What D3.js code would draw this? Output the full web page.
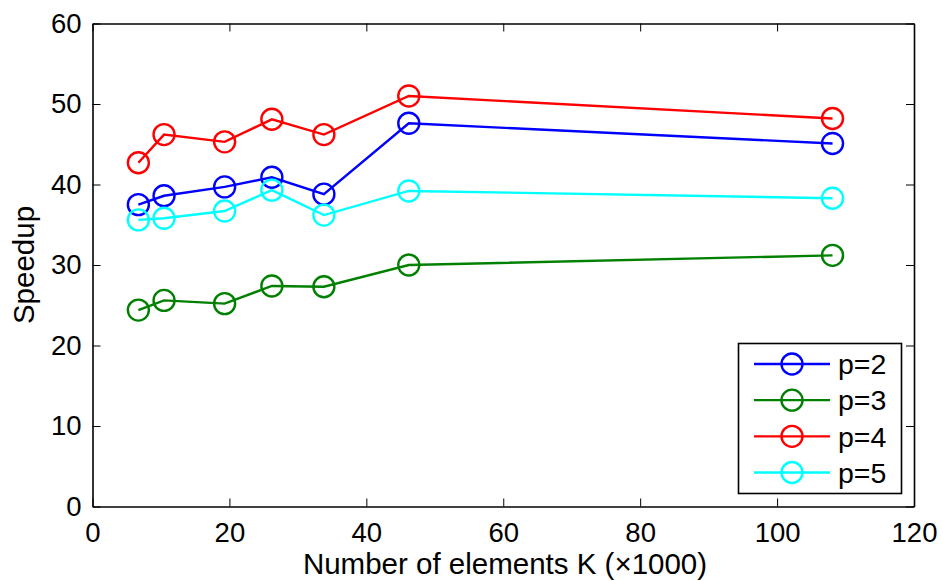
<!DOCTYPE html>
<html><head><meta charset="utf-8">
<script src="https://cdn.jsdelivr.net/npm/d3@7"></script>
<style>body{margin:0;background:#fff}svg{display:block}text{font-family:"Liberation Sans",Arial,sans-serif;fill:#000}</style>
</head><body><svg id="c" width="943" height="581"></svg>
<script>
const elementsK = [6.7, 10.45, 19.3, 26.2, 33.8, 46.2, 108.1];
const speedupP2 = [37.5, 38.6, 39.7, 40.9, 38.8, 47.6, 45.1];
const speedupP3 = [24.4, 25.6, 25.2, 27.4, 27.3, 30.0, 31.2];
const speedupP4 = [42.7, 46.2, 45.3, 48.1, 46.2, 51.0, 48.2];
const speedupP5 = [35.6, 35.8, 36.7, 39.3, 36.2, 39.2, 38.3];
const seriesNames = ["p=2", "p=3", "p=4", "p=5"];
const seriesColors = ["#0000ff", "#008000", "#ff0000", "#00ffff"];
const xTicks = [0, 20, 40, 60, 80, 100, 120];
const yTicks = [0, 10, 20, 30, 40, 50, 60];
const xLabel = "Number of elements K (\u00d71000)";
const yLabel = "Speedup";

const series = [speedupP2, speedupP3, speedupP4, speedupP5].map((v, i) => ({name: seriesNames[i], color: seriesColors[i], values: v}));

const svg = d3.select("#c");
const L = 92.5, T = 23.5, R = 914, B = 506.5;
const x = d3.scaleLinear().domain([0, 120]).range([L, R]);
const y = d3.scaleLinear().domain([0, 60]).range([B, T]);
const fsTick = 27.5, fsLab = 29.5, fsLeg = 28.5;
const sw = 2.4;

// axes
const gx = svg.append("g").attr("transform", `translate(0,${B})`)
  .call(d3.axisBottom(x).tickValues(xTicks).tickSizeInner(-8).tickSizeOuter(0).tickPadding(16));
const gxt = svg.append("g").attr("transform", `translate(0,${T})`)
  .call(d3.axisTop(x).tickValues(xTicks).tickSizeInner(-8).tickSizeOuter(0).tickFormat(""));
const gy = svg.append("g").attr("transform", `translate(${L},0)`)
  .call(d3.axisLeft(y).tickValues(yTicks).tickSizeInner(-8).tickSizeOuter(0).tickPadding(11));
const gyr = svg.append("g").attr("transform", `translate(${R},0)`)
  .call(d3.axisRight(y).tickValues(yTicks).tickSizeInner(-8).tickSizeOuter(0).tickFormat(""));
[gx, gxt, gy, gyr].forEach(g => {
  g.selectAll(".domain").attr("stroke", "#000").attr("stroke-width", 1.6);
  g.selectAll(".tick line").attr("stroke", "#000").attr("stroke-width", 1);
  g.selectAll("text").attr("font-size", fsTick).attr("font-family", "Liberation Sans, Arial, sans-serif").attr("fill", "#000");
});

// lines and markers
const line = d3.line().x((d, i) => x(elementsK[i])).y(d => y(d));
series.forEach(s => {
  const g = svg.append("g");
  g.append("path").datum(s.values).attr("d", line).attr("fill", "none")
    .attr("stroke", s.color).attr("stroke-width", sw);
  g.selectAll("circle").data(s.values).join("circle")
    .attr("cx", (d, i) => x(elementsK[i])).attr("cy", d => y(d)).attr("r", 10.5)
    .attr("fill", "none").attr("stroke", s.color).attr("stroke-width", sw);
});

// axis labels
svg.append("text").attr("x", 505).attr("y", 574).attr("text-anchor", "middle")
  .attr("font-size", fsLab).text(xLabel);
svg.append("text").attr("transform", `translate(34,${(T + B) / 2}) rotate(-90)`)
  .attr("text-anchor", "middle").attr("font-size", fsLab).text(yLabel);

// legend
const lg = svg.append("g");
lg.append("rect").attr("x", 738.5).attr("y", 343.5).attr("width", 163).attr("height", 150)
  .attr("fill", "#fff").attr("stroke", "#000").attr("stroke-width", 1.6);
const ly = d3.scalePoint().domain(seriesNames).range([364, 472.5]);
series.forEach(s => {
  const yy = ly(s.name);
  lg.append("line").attr("x1", 754).attr("x2", 830).attr("y1", yy).attr("y2", yy)
    .attr("stroke", s.color).attr("stroke-width", sw);
  lg.append("circle").attr("cx", 792).attr("cy", yy).attr("r", 10.5)
    .attr("fill", "none").attr("stroke", s.color).attr("stroke-width", sw);
  lg.append("text").attr("x", 838).attr("y", yy).attr("dy", "0.36em").attr("font-size", fsLeg).text(s.name);
});
</script></body></html>
